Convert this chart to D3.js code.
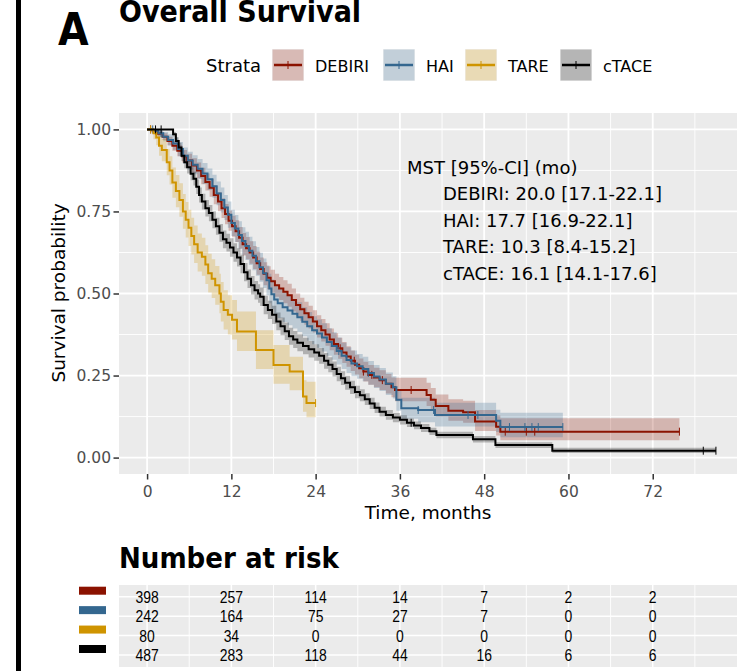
<!DOCTYPE html>
<html>
<head>
<meta charset="utf-8">
<script src="https://cdn.jsdelivr.net/npm/d3@7"></script>
<style>
  html, body { margin: 0; padding: 0; background: #fff; }
  svg { display: block; }
</style>
</head>
<body>
<svg id="chart" width="746" height="671"></svg>
<script>
// strata, colours and labels
const strata = ['DEBIRI', 'HAI', 'TARE', 'cTACE'];
const colors = ['#8B1200', '#34678F', '#CF9400', '#000000'];
const xTicks = [0, 12, 24, 36, 48, 60, 72];
const yTicks = [0, 0.25, 0.5, 0.75, 1];

// Kaplan-Meier steps: [time, survival, lower, upper]
const debiri = [
  [0, 1, 1, 1], [0.8, .995, .99, 1], [1.5, .987, .979, .995], [2.2, .978, .968, .988],
  [2.9, .965, .952, .978], [3.6, .95, .935, .965], [4.3, .935, .918, .952], [5.0, .918, .899, .937],
  [5.7, .905, .884, .926], [6.4, .89, .868, .912], [7.1, .875, .851, .899], [7.7, .858, .833, .883],
  [8.3, .84, .814, .866], [8.9, .822, .795, .849], [9.5, .80, .772, .828], [10.1, .78, .751, .809],
  [10.6, .76, .73, .79], [11.1, .742, .711, .773], [11.6, .722, .691, .753], [12.1, .705, .673, .737],
  [12.6, .69, .657, .723], [13.1, .67, .637, .703], [13.6, .65, .616, .684], [14.1, .638, .604, .672],
  [14.6, .625, .591, .659], [15.1, .61, .575, .645], [15.6, .592, .557, .627], [16.1, .575, .54, .61],
  [16.6, .56, .525, .595], [17.1, .548, .513, .583], [17.6, .537, .502, .572], [18.2, .525, .49, .56],
  [18.8, .515, .48, .55], [19.4, .505, .47, .54], [20.0, .495, .46, .53], [20.6, .48, .445, .515],
  [21.2, .465, .43, .50], [21.8, .452, .417, .487], [22.4, .44, .405, .475], [23.0, .428, .393, .463],
  [23.6, .415, .381, .449], [24.2, .40, .366, .434], [24.8, .388, .354, .422], [25.4, .375, .341, .409],
  [26.0, .36, .327, .393], [26.6, .346, .313, .379], [27.2, .333, .301, .365], [27.8, .32, .288, .352],
  [28.4, .308, .277, .339], [29.0, .295, .264, .326], [29.6, .283, .253, .313], [30.2, .272, .242, .302],
  [30.8, .262, .232, .292], [31.5, .252, .222, .282], [32.3, .244, .214, .274], [33.1, .236, .206, .266],
  [34.0, .225, .195, .255], [34.8, .214, .184, .244], [35.3, .206, .172, .243], [39.8, .191, .157, .228],
  [40.4, .176, .143, .212], [41.1, .157, .125, .192], [42.9, .143, .112, .178], [45.0, .138, .106, .173],
  [46.7, .11, .081, .145], [49.7, .094, .067, .128], [50.3, .079, .053, .12], [75.8, .079, .053, .12]
];
const hai = [
  [0, 1, 1, 1], [0.9, .996, .99, 1], [1.6, .988, .978, .998], [2.3, .978, .964, .992],
  [3.0, .968, .951, .985], [3.7, .957, .938, .976], [4.4, .94, .918, .962], [5.1, .92, .895, .945],
  [5.8, .905, .878, .932], [6.5, .892, .863, .921], [7.2, .88, .85, .91], [7.9, .866, .834, .898],
  [8.6, .848, .815, .881], [9.3, .827, .792, .862], [9.9, .805, .769, .841], [10.5, .785, .747, .823],
  [11.0, .762, .724, .80], [11.5, .74, .70, .78], [12.0, .715, .675, .755], [12.5, .698, .657, .739],
  [13.0, .678, .636, .72], [13.5, .66, .618, .702], [14.0, .645, .602, .688], [14.5, .63, .587, .673],
  [15.0, .615, .571, .659], [15.5, .598, .554, .642], [16.0, .58, .536, .624], [16.5, .562, .517, .607],
  [17.0, .54, .495, .585], [17.4, .515, .47, .56], [17.7, .498, .453, .543], [18.1, .482, .437, .527],
  [18.6, .47, .425, .515], [19.3, .458, .413, .503], [20.0, .448, .403, .493], [20.7, .438, .393, .483],
  [21.4, .428, .383, .473], [22.1, .414, .37, .458], [22.8, .40, .356, .444], [23.5, .388, .345, .431],
  [24.2, .378, .335, .421], [24.9, .366, .323, .409], [25.6, .352, .31, .394], [26.3, .34, .298, .382],
  [27.0, .325, .284, .366], [27.7, .31, .27, .35], [28.4, .297, .258, .336], [29.1, .287, .248, .326],
  [29.9, .278, .24, .316], [30.7, .27, .233, .307], [31.5, .258, .222, .294], [32.3, .247, .212, .282],
  [33.1, .238, .203, .273], [34.0, .225, .191, .259], [35.0, .214, .18, .248], [35.5, .176, .143, .209],
  [36.2, .15, .118, .182], [38.6, .145, .108, .182], [41.0, .13, .095, .167], [49.7, .112, .078, .146],
  [50.3, .093, .062, .137], [59.2, .093, .062, .137]
];
const tare = [
  [0, 1, 1, 1], [0.9, .988, .97, 1], [1.3, .975, .952, .998], [1.7, .95, .92, .98],
  [2.1, .937, .903, .971], [2.8, .90, .86, .94], [3.2, .875, .832, .918], [3.6, .838, .792, .884],
  [4.1, .812, .763, .861], [4.6, .785, .734, .836], [5.1, .75, .697, .803], [5.5, .725, .671, .779],
  [5.9, .70, .645, .755], [6.3, .675, .619, .731], [6.7, .65, .593, .707], [7.2, .625, .567, .683],
  [7.8, .612, .554, .67], [8.3, .588, .529, .647], [8.7, .562, .503, .621], [9.2, .545, .486, .604],
  [9.7, .525, .466, .584], [10.3, .50, .44, .56], [10.5, .475, .415, .535], [10.9, .45, .39, .51],
  [11.5, .435, .375, .495], [12.1, .42, .36, .48], [12.8, .384, .325, .445], [15.5, .328, .27, .388],
  [18.0, .282, .225, .343], [20.3, .262, .205, .307], [22.2, .186, .14, .236], [22.7, .166, .123, .231],
  [24.0, .166, .123, .231]
];
const ctace = [
  [0, 1, 1, 1], [3.7, .985, .978, .992], [4.1, .965, .954, .976], [4.5, .945, .931, .959],
  [4.9, .92, .904, .936], [5.3, .90, .882, .918], [5.7, .885, .866, .904], [6.2, .865, .845, .885],
  [6.6, .85, .829, .871], [7.0, .825, .803, .847], [7.4, .80, .777, .823], [7.8, .78, .756, .804],
  [8.3, .76, .735, .785], [8.8, .745, .72, .77], [9.3, .725, .699, .751], [9.8, .705, .679, .731],
  [10.3, .685, .658, .712], [10.8, .665, .638, .692], [11.3, .655, .628, .682], [11.8, .64, .612, .668],
  [12.3, .625, .597, .653], [12.8, .61, .582, .638], [13.3, .59, .562, .618], [13.8, .565, .537, .593],
  [14.3, .545, .517, .573], [14.8, .525, .497, .553], [15.3, .51, .482, .538], [15.8, .50, .472, .528],
  [16.1, .49, .462, .518], [16.6, .465, .437, .493], [17.2, .45, .422, .478], [17.8, .435, .407, .463],
  [18.4, .415, .388, .442], [19.0, .40, .373, .427], [19.6, .385, .358, .412], [20.2, .37, .344, .396],
  [20.8, .36, .334, .386], [21.4, .35, .324, .376], [22.2, .34, .315, .365], [23.0, .33, .305, .355],
  [23.8, .32, .295, .345], [24.5, .31, .286, .334], [25.2, .295, .271, .319], [25.8, .283, .26, .306],
  [26.4, .27, .247, .293], [27.0, .255, .233, .277], [27.6, .242, .221, .263], [28.2, .228, .207, .249],
  [28.9, .214, .194, .234], [29.6, .20, .181, .219], [30.3, .19, .172, .208], [31.0, .178, .16, .196],
  [31.7, .165, .148, .182], [32.4, .152, .136, .168], [33.1, .14, .125, .155], [34.0, .13, .115, .145],
  [35.0, .122, .108, .136], [36.0, .115, .101, .129], [37.0, .106, .093, .119], [38.0, .098, .086, .11],
  [39.0, .09, .078, .102], [40.2, .08, .069, .091], [41.2, .069, .059, .079], [46.4, .056, .046, .066],
  [49.6, .038, .029, .047], [57.7, .021, .014, .03], [81.0, .021, .014, .03]
];

// censoring times (the little + marks)
const censorDebiri = [0.5, 1.2, 27.5, 29.5, 30.8, 32.0, 33.5, 37.6, 51.0, 54.0, 55.2, 75.8];
const censorHai = [0.8, 2.0, 27.3, 31.5, 38.6, 40.8, 45.7, 47.1, 51.6, 53.8, 54.8, 55.7, 59.2];
const censorTare = [0.5, 24.0];
const censorCtace = [1.2, 2.0, 37.6, 79.2, 81.0];

// median survival [median, lower, upper]
const mstHeader = 'MST [95%-CI] (mo)';
const mstDebiri = [20.0, 17.1, 22.1];
const mstHai = [17.7, 16.9, 22.1];
const mstTare = [10.3, 8.4, 15.2];
const mstCtace = [16.1, 14.1, 17.6];

// number at risk at xTicks
const riskDebiri = [398, 257, 114, 14, 7, 2, 2];
const riskHai = [242, 164, 75, 27, 7, 0, 0];
const riskTare = [80, 34, 0, 0, 0, 0, 0];
const riskCtace = [487, 283, 118, 44, 16, 6, 6];

const curves = [debiri, hai, tare, ctace];
const censors = [censorDebiri, censorHai, censorTare, censorCtace];
const msts = [mstDebiri, mstHai, mstTare, mstCtace];
const risks = [riskDebiri, riskHai, riskTare, riskCtace];

const font = 'DejaVu Sans, Verdana, sans-serif';
const boldFont = '"DejaVu Sans Condensed", "DejaVu Sans", sans-serif';

const svg = d3.select('#chart');

// black bar on the left edge
svg.append('rect').attr('x', 16).attr('y', 0).attr('width', 5).attr('height', 671).attr('fill', '#000');

svg.append('text').attr('x', 58).attr('y', 45)
  .style('font-family', boldFont).style('font-stretch', 'condensed')
  .style('font-weight', 'bold').style('font-size', '44px').text('A');
svg.append('text').attr('x', 119).attr('y', 22)
  .style('font-family', boldFont).style('font-stretch', 'condensed')
  .style('font-weight', 'bold').style('font-size', '30px').text('Overall Survival');

// legend
const legendKeyX = [272, 383, 465, 560];
svg.append('text').attr('x', 206).attr('y', 72)
  .style('font-family', font).style('font-size', '18px').text('Strata');
strata.forEach((name, i) => {
  const g = svg.append('g').attr('transform', 'translate(' + legendKeyX[i] + ',49)');
  g.append('rect').attr('width', 32).attr('height', 32).attr('fill', '#F2F2F2');
  g.append('rect').attr('x', 0.5).attr('y', 0.5).attr('width', 31).attr('height', 31)
    .attr('fill', colors[i]).attr('fill-opacity', 0.25);
  g.append('line').attr('x1', 2).attr('x2', 30).attr('y1', 16).attr('y2', 16)
    .attr('stroke', colors[i]).attr('stroke-width', 2.5);
  g.append('line').attr('x1', 16).attr('x2', 16).attr('y1', 12).attr('y2', 20)
    .attr('stroke', colors[i]).attr('stroke-width', 1);
  g.append('text').attr('x', 43).attr('y', 22.5)
    .style('font-family', font).style('font-size', '16px').text(name);
});

// main panel
const x = d3.scaleLinear().domain([-4, 84]).range([119, 737]);
const y = d3.scaleLinear().domain([-0.05, 1.05]).range([474, 113]);

svg.append('rect').attr('x', 119).attr('y', 113).attr('width', 618).attr('height', 361).attr('fill', '#EBEBEB');

const grid = svg.append('g');
grid.selectAll('.vminor').data(d3.range(6, 84, 12)).enter().append('line')
  .attr('x1', d => x(d)).attr('x2', d => x(d)).attr('y1', 113).attr('y2', 474)
  .attr('stroke', '#fff').attr('stroke-width', 0.9);
grid.selectAll('.hminor').data(d3.range(0.125, 1, 0.25)).enter().append('line')
  .attr('x1', 119).attr('x2', 737).attr('y1', d => y(d)).attr('y2', d => y(d))
  .attr('stroke', '#fff').attr('stroke-width', 0.9);
grid.selectAll('.vmajor').data(xTicks).enter().append('line')
  .attr('x1', d => x(d)).attr('x2', d => x(d)).attr('y1', 113).attr('y2', 474)
  .attr('stroke', '#fff').attr('stroke-width', 1.8);
grid.selectAll('.hmajor').data(yTicks).enter().append('line')
  .attr('x1', 119).attr('x2', 737).attr('y1', d => y(d)).attr('y2', d => y(d))
  .attr('stroke', '#fff').attr('stroke-width', 1.8);

svg.append('clipPath').attr('id', 'panel').append('rect')
  .attr('x', 119).attr('y', 113).attr('width', 618).attr('height', 361);
const plot = svg.append('g').attr('clip-path', 'url(#panel)');

const band = d3.area().curve(d3.curveStepAfter)
  .x(d => x(d[0])).y0(d => y(d[2])).y1(d => y(d[3]));
const line = d3.line().curve(d3.curveStepAfter)
  .x(d => x(d[0])).y(d => y(d[1]));

curves.forEach((c, i) => {
  plot.append('path').attr('d', band(c)).attr('fill', colors[i]).attr('fill-opacity', 0.25);
});
const bisect = d3.bisector(d => d[0]).right;
curves.forEach((c, i) => {
  plot.append('path').attr('d', line(c)).attr('fill', 'none')
    .attr('stroke', colors[i]).attr('stroke-width', 2);
  censors[i].forEach(t => {
    const s = c[Math.max(0, bisect(c, t) - 1)][1];
    plot.append('line').attr('x1', x(t)).attr('x2', x(t))
      .attr('y1', y(s) - 4).attr('y2', y(s) + 4)
      .attr('stroke', colors[i]).attr('stroke-width', 1);
  });
});

// median survival annotation
svg.append('text').attr('x', 407).attr('y', 173.5)
  .style('font-family', font).style('font-size', '18px').text(mstHeader);
msts.forEach((m, i) => {
  svg.append('text').attr('x', 443).attr('y', 173.5 + 26.5 * (i + 1))
    .style('font-family', font).style('font-size', '18px')
    .text(strata[i] + ': ' + m[0].toFixed(1) + ' [' + m[1].toFixed(1) + '-' + m[2].toFixed(1) + ']');
});

// axes
function styleAxis (g) {
  g.select('.domain').remove();
  g.selectAll('.tick line').attr('stroke', '#333').attr('stroke-width', 1.5);
  g.selectAll('.tick text').attr('fill', '#4D4D4D')
    .style('font-family', font).style('font-size', '15.5px');
}
svg.append('g').attr('transform', 'translate(0,474)')
  .call(d3.axisBottom(x).tickValues(xTicks).tickSize(5.5).tickPadding(6.5))
  .call(styleAxis);
svg.append('g').attr('transform', 'translate(119,0)')
  .call(d3.axisLeft(y).tickValues(yTicks).tickFormat(d3.format('.2f')).tickSize(5.5).tickPadding(2.5))
  .call(styleAxis);

svg.append('text').attr('x', 428).attr('y', 519).attr('text-anchor', 'middle')
  .style('font-family', font).style('font-size', '18.5px').text('Time, months');
svg.append('text').attr('transform', 'translate(65,293) rotate(-90)').attr('text-anchor', 'middle')
  .style('font-family', font).style('font-size', '18.5px').text('Survival probability');

// risk table
svg.append('text').attr('x', 119).attr('y', 568)
  .style('font-family', boldFont).style('font-stretch', 'condensed')
  .style('font-weight', 'bold').style('font-size', '29px').text('Number at risk');

const rowY = d3.scalePoint().domain(strata).range([596.7, 655]);
svg.append('rect').attr('x', 119).attr('y', 585).attr('width', 618).attr('height', 82).attr('fill', '#EBEBEB');
const tgrid = svg.append('g');
tgrid.selectAll('.vminor').data(d3.range(6, 84, 12)).enter().append('line')
  .attr('x1', d => x(d)).attr('x2', d => x(d)).attr('y1', 585).attr('y2', 667)
  .attr('stroke', '#fff').attr('stroke-width', 0.9);
tgrid.selectAll('.vmajor').data(xTicks).enter().append('line')
  .attr('x1', d => x(d)).attr('x2', d => x(d)).attr('y1', 585).attr('y2', 667)
  .attr('stroke', '#fff').attr('stroke-width', 1.5);
tgrid.selectAll('.hmajor').data(strata).enter().append('line')
  .attr('x1', 119).attr('x2', 737).attr('y1', d => rowY(d)).attr('y2', d => rowY(d))
  .attr('stroke', '#fff').attr('stroke-width', 1.5);

strata.forEach((name, i) => {
  svg.append('rect').attr('x', 79).attr('y', rowY(name) - 10).attr('width', 27).attr('height', 8)
    .attr('fill', colors[i]);
  risks[i].forEach((n, j) => {
    svg.append('text')
      .attr('transform', 'translate(' + x(xTicks[j]) + ',' + (rowY(name) + 6.3) + ') scale(0.87,1)')
      .attr('text-anchor', 'middle')
      .style('font-family', 'Liberation Sans, Arial, sans-serif').style('font-size', '16px')
      .text(n);
  });
});
</script>
</body>
</html>
